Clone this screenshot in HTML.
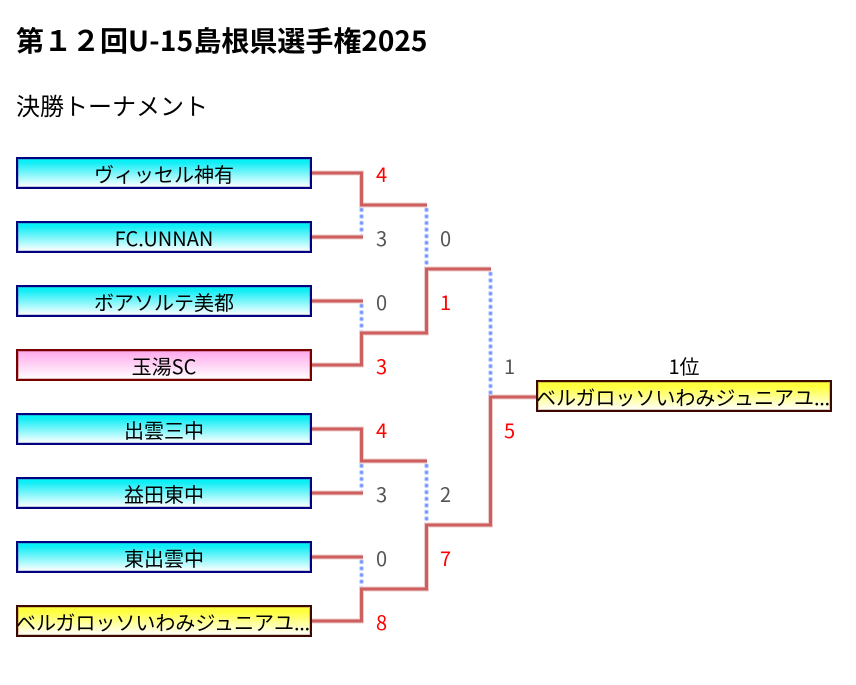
<!DOCTYPE html>
<html lang="ja"><head><meta charset="utf-8"><style>
html,body{margin:0;padding:0;background:#fff}
body{width:856px;height:685px;position:relative;overflow:hidden;font-family:"Noto Sans CJK JP",sans-serif;color:#000}
h1,h2{position:absolute;left:16px;margin:0;white-space:nowrap;font-size:28px;font-weight:700;line-height:40px;top:20px}
h1 span{letter-spacing:.25px}
h2{font-size:24px;font-weight:400;top:85px}
.b{position:absolute;left:16px;width:292px;height:28px;border:2px solid #000080;font-size:20px;line-height:30px;text-align:center;white-space:nowrap;overflow:hidden;background:linear-gradient(#00f4fa 0%,#10eef6 12%,#fff 100%);box-shadow:inset 0 0 0 1px rgba(60,60,140,.28)}
.p{border-color:#7a0000;background:linear-gradient(#ffa8ec,#fff);box-shadow:inset 0 0 0 1px rgba(140,30,30,.3)}
.y{border-color:#3c0800;background:linear-gradient(#ffff40,#ffff40 18%,#fff);box-shadow:inset 0 0 0 1px rgba(90,40,0,.25);text-align:left}
.y i{position:absolute;left:-2px;top:0;font-style:normal}
.y i b{font-weight:400;letter-spacing:-.3px}
.n{position:absolute;font-size:20px;line-height:28px;width:20px;text-align:center}
.r{color:#f00}.g{color:#555}
svg{position:absolute;left:0;top:0}
</style></head><body>
<h1>第１２回<span>U-15</span>島根県選手権2025</h1>
<h2>決勝トーナメント</h2>
<svg width="856" height="685" fill="none">
<defs><filter id="s" x="-50%" y="-5%" width="200%" height="110%"><feGaussianBlur stdDeviation=".45"/></filter></defs>
<g stroke="#6a90ff" stroke-width="3.4" stroke-dasharray="3.6 3" filter="url(#s)">
<path d="M361.5 208V235M361.5 304V331M361.5 464V491M361.5 560V587M426.5 208V267M426.5 464V523M490.5 272V395"/>
</g>
<g stroke="#eccccc" stroke-width="5">
<path d="M312 173H361.5V205H427M312 237H363"/>
<path d="M312 301H363M312 365H361.5V333H426.5V269H491"/>
<path d="M312 429H361.5V461H427M312 493H363"/>
<path d="M312 557H363M312 621H361.5V589H426.5V525H490.5V397H536"/>
</g>
<g stroke="#cd5f5f" stroke-width="3">
<path d="M312 173H361.5V205H427M312 237H363"/>
<path d="M312 301H363M312 365H361.5V333H426.5V269H491"/>
<path d="M312 429H361.5V461H427M312 493H363"/>
<path d="M312 557H363M312 621H361.5V589H426.5V525H490.5V397H536"/>
</g>
</svg>
<div class="b" style="top:157px">ヴィッセル神有</div>
<div class="b" style="top:221px">FC.UNNAN</div>
<div class="b" style="top:285px">ボアソルテ美都</div>
<div class="b p" style="top:349px">玉湯SC</div>
<div class="b" style="top:413px">出雲三中</div>
<div class="b" style="top:477px">益田東中</div>
<div class="b" style="top:541px">東出雲中</div>
<div class="b y" style="top:605px"><i>ベルガロッソいわみジュニアユ<b>...</b></i></div>
<div class="b y" style="top:380px;left:536px"><i>ベルガロッソいわみジュニアユ<b>...</b></i></div>
<div class="n" style="left:536px;top:352px;width:296px;white-space:nowrap">1位</div>
<div class="n r" style="left:371.5px;top:160px">4</div>
<div class="n g" style="left:371.5px;top:224px">3</div>
<div class="n g" style="left:371.5px;top:288px">0</div>
<div class="n r" style="left:371.5px;top:352px">3</div>
<div class="n r" style="left:371.5px;top:416px">4</div>
<div class="n g" style="left:371.5px;top:480px">3</div>
<div class="n g" style="left:371.5px;top:544px">0</div>
<div class="n r" style="left:371.5px;top:608px">8</div>
<div class="n g" style="left:435.5px;top:224px">0</div>
<div class="n r" style="left:435.5px;top:288px">1</div>
<div class="n g" style="left:435.5px;top:480px">2</div>
<div class="n r" style="left:435.5px;top:544px">7</div>
<div class="n g" style="left:499.5px;top:352px">1</div>
<div class="n r" style="left:499.5px;top:416px">5</div>
</body></html>
